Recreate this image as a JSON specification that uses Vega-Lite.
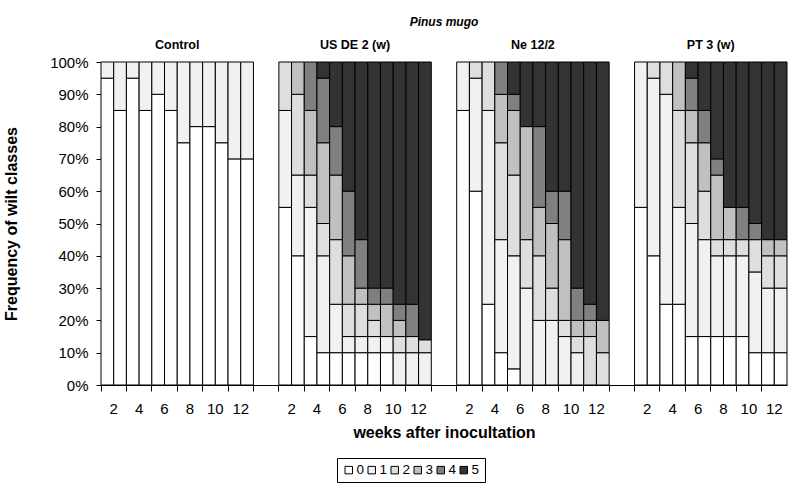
{
  "$schema": "https://vega.github.io/schema/vega-lite/v6.json",
  "width": 686,
  "height": 323,
  "autosize": "none",
  "padding": {"left": 101, "top": 62, "right": 9, "bottom": 101},
  "config": {"font": "Liberation Sans", "view": {"stroke": null}},
  "title": {"text": "Pinus mugo", "font": "Liberation Sans", "fontStyle": "italic", "fontWeight": "bold", "fontSize": 12, "offset": 10, "color": "black"},
  "datasets": {
    "wilt": [
      {"panel": "Control", "week": 2, "cls": "0", "pct": 95}, {"panel": "Control", "week": 2, "cls": "1", "pct": 5},
      {"panel": "Control", "week": 3, "cls": "0", "pct": 85}, {"panel": "Control", "week": 3, "cls": "1", "pct": 15},
      {"panel": "Control", "week": 4, "cls": "0", "pct": 95}, {"panel": "Control", "week": 4, "cls": "1", "pct": 5},
      {"panel": "Control", "week": 5, "cls": "0", "pct": 85}, {"panel": "Control", "week": 5, "cls": "1", "pct": 15},
      {"panel": "Control", "week": 6, "cls": "0", "pct": 90}, {"panel": "Control", "week": 6, "cls": "1", "pct": 10},
      {"panel": "Control", "week": 7, "cls": "0", "pct": 85}, {"panel": "Control", "week": 7, "cls": "1", "pct": 15},
      {"panel": "Control", "week": 8, "cls": "0", "pct": 75}, {"panel": "Control", "week": 8, "cls": "1", "pct": 25},
      {"panel": "Control", "week": 9, "cls": "0", "pct": 80}, {"panel": "Control", "week": 9, "cls": "1", "pct": 20},
      {"panel": "Control", "week": 10, "cls": "0", "pct": 80}, {"panel": "Control", "week": 10, "cls": "1", "pct": 20},
      {"panel": "Control", "week": 11, "cls": "0", "pct": 75}, {"panel": "Control", "week": 11, "cls": "1", "pct": 25},
      {"panel": "Control", "week": 12, "cls": "0", "pct": 70}, {"panel": "Control", "week": 12, "cls": "1", "pct": 30},
      {"panel": "Control", "week": 13, "cls": "0", "pct": 70}, {"panel": "Control", "week": 13, "cls": "1", "pct": 30},

      {"panel": "US DE 2 (w)", "week": 2, "cls": "0", "pct": 55}, {"panel": "US DE 2 (w)", "week": 2, "cls": "1", "pct": 30}, {"panel": "US DE 2 (w)", "week": 2, "cls": "2", "pct": 15},
      {"panel": "US DE 2 (w)", "week": 3, "cls": "0", "pct": 40}, {"panel": "US DE 2 (w)", "week": 3, "cls": "1", "pct": 25}, {"panel": "US DE 2 (w)", "week": 3, "cls": "2", "pct": 25}, {"panel": "US DE 2 (w)", "week": 3, "cls": "3", "pct": 10},
      {"panel": "US DE 2 (w)", "week": 4, "cls": "0", "pct": 15}, {"panel": "US DE 2 (w)", "week": 4, "cls": "1", "pct": 40}, {"panel": "US DE 2 (w)", "week": 4, "cls": "2", "pct": 10}, {"panel": "US DE 2 (w)", "week": 4, "cls": "3", "pct": 20}, {"panel": "US DE 2 (w)", "week": 4, "cls": "4", "pct": 15},
      {"panel": "US DE 2 (w)", "week": 5, "cls": "0", "pct": 10}, {"panel": "US DE 2 (w)", "week": 5, "cls": "1", "pct": 30}, {"panel": "US DE 2 (w)", "week": 5, "cls": "2", "pct": 10}, {"panel": "US DE 2 (w)", "week": 5, "cls": "3", "pct": 25}, {"panel": "US DE 2 (w)", "week": 5, "cls": "4", "pct": 20}, {"panel": "US DE 2 (w)", "week": 5, "cls": "5", "pct": 5},
      {"panel": "US DE 2 (w)", "week": 6, "cls": "0", "pct": 10}, {"panel": "US DE 2 (w)", "week": 6, "cls": "1", "pct": 15}, {"panel": "US DE 2 (w)", "week": 6, "cls": "2", "pct": 20}, {"panel": "US DE 2 (w)", "week": 6, "cls": "3", "pct": 20}, {"panel": "US DE 2 (w)", "week": 6, "cls": "4", "pct": 15}, {"panel": "US DE 2 (w)", "week": 6, "cls": "5", "pct": 20},
      {"panel": "US DE 2 (w)", "week": 7, "cls": "0", "pct": 10}, {"panel": "US DE 2 (w)", "week": 7, "cls": "1", "pct": 5}, {"panel": "US DE 2 (w)", "week": 7, "cls": "2", "pct": 10}, {"panel": "US DE 2 (w)", "week": 7, "cls": "3", "pct": 15}, {"panel": "US DE 2 (w)", "week": 7, "cls": "4", "pct": 20}, {"panel": "US DE 2 (w)", "week": 7, "cls": "5", "pct": 40},
      {"panel": "US DE 2 (w)", "week": 8, "cls": "0", "pct": 10}, {"panel": "US DE 2 (w)", "week": 8, "cls": "1", "pct": 5}, {"panel": "US DE 2 (w)", "week": 8, "cls": "2", "pct": 10}, {"panel": "US DE 2 (w)", "week": 8, "cls": "3", "pct": 5}, {"panel": "US DE 2 (w)", "week": 8, "cls": "4", "pct": 15}, {"panel": "US DE 2 (w)", "week": 8, "cls": "5", "pct": 55},
      {"panel": "US DE 2 (w)", "week": 9, "cls": "0", "pct": 10}, {"panel": "US DE 2 (w)", "week": 9, "cls": "1", "pct": 5}, {"panel": "US DE 2 (w)", "week": 9, "cls": "2", "pct": 5}, {"panel": "US DE 2 (w)", "week": 9, "cls": "3", "pct": 5}, {"panel": "US DE 2 (w)", "week": 9, "cls": "4", "pct": 5}, {"panel": "US DE 2 (w)", "week": 9, "cls": "5", "pct": 70},
      {"panel": "US DE 2 (w)", "week": 10, "cls": "0", "pct": 10}, {"panel": "US DE 2 (w)", "week": 10, "cls": "1", "pct": 5}, {"panel": "US DE 2 (w)", "week": 10, "cls": "3", "pct": 10}, {"panel": "US DE 2 (w)", "week": 10, "cls": "4", "pct": 5}, {"panel": "US DE 2 (w)", "week": 10, "cls": "5", "pct": 70},
      {"panel": "US DE 2 (w)", "week": 11, "cls": "1", "pct": 10}, {"panel": "US DE 2 (w)", "week": 11, "cls": "2", "pct": 5}, {"panel": "US DE 2 (w)", "week": 11, "cls": "3", "pct": 5}, {"panel": "US DE 2 (w)", "week": 11, "cls": "4", "pct": 5}, {"panel": "US DE 2 (w)", "week": 11, "cls": "5", "pct": 75},
      {"panel": "US DE 2 (w)", "week": 12, "cls": "1", "pct": 10}, {"panel": "US DE 2 (w)", "week": 12, "cls": "2", "pct": 5}, {"panel": "US DE 2 (w)", "week": 12, "cls": "4", "pct": 10}, {"panel": "US DE 2 (w)", "week": 12, "cls": "5", "pct": 75},
      {"panel": "US DE 2 (w)", "week": 13, "cls": "1", "pct": 10}, {"panel": "US DE 2 (w)", "week": 13, "cls": "2", "pct": 4}, {"panel": "US DE 2 (w)", "week": 13, "cls": "5", "pct": 86},

      {"panel": "Ne 12/2", "week": 2, "cls": "0", "pct": 85}, {"panel": "Ne 12/2", "week": 2, "cls": "1", "pct": 15},
      {"panel": "Ne 12/2", "week": 3, "cls": "0", "pct": 60}, {"panel": "Ne 12/2", "week": 3, "cls": "1", "pct": 35}, {"panel": "Ne 12/2", "week": 3, "cls": "2", "pct": 5},
      {"panel": "Ne 12/2", "week": 4, "cls": "0", "pct": 25}, {"panel": "Ne 12/2", "week": 4, "cls": "1", "pct": 60}, {"panel": "Ne 12/2", "week": 4, "cls": "2", "pct": 15},
      {"panel": "Ne 12/2", "week": 5, "cls": "0", "pct": 10}, {"panel": "Ne 12/2", "week": 5, "cls": "1", "pct": 35}, {"panel": "Ne 12/2", "week": 5, "cls": "2", "pct": 30}, {"panel": "Ne 12/2", "week": 5, "cls": "3", "pct": 15}, {"panel": "Ne 12/2", "week": 5, "cls": "4", "pct": 10},
      {"panel": "Ne 12/2", "week": 6, "cls": "0", "pct": 5}, {"panel": "Ne 12/2", "week": 6, "cls": "1", "pct": 35}, {"panel": "Ne 12/2", "week": 6, "cls": "2", "pct": 25}, {"panel": "Ne 12/2", "week": 6, "cls": "3", "pct": 20}, {"panel": "Ne 12/2", "week": 6, "cls": "4", "pct": 5}, {"panel": "Ne 12/2", "week": 6, "cls": "5", "pct": 10},
      {"panel": "Ne 12/2", "week": 7, "cls": "1", "pct": 30}, {"panel": "Ne 12/2", "week": 7, "cls": "2", "pct": 15}, {"panel": "Ne 12/2", "week": 7, "cls": "3", "pct": 35}, {"panel": "Ne 12/2", "week": 7, "cls": "5", "pct": 20},
      {"panel": "Ne 12/2", "week": 8, "cls": "1", "pct": 20}, {"panel": "Ne 12/2", "week": 8, "cls": "2", "pct": 20}, {"panel": "Ne 12/2", "week": 8, "cls": "3", "pct": 15}, {"panel": "Ne 12/2", "week": 8, "cls": "4", "pct": 25}, {"panel": "Ne 12/2", "week": 8, "cls": "5", "pct": 20},
      {"panel": "Ne 12/2", "week": 9, "cls": "1", "pct": 20}, {"panel": "Ne 12/2", "week": 9, "cls": "2", "pct": 10}, {"panel": "Ne 12/2", "week": 9, "cls": "3", "pct": 20}, {"panel": "Ne 12/2", "week": 9, "cls": "4", "pct": 10}, {"panel": "Ne 12/2", "week": 9, "cls": "5", "pct": 40},
      {"panel": "Ne 12/2", "week": 10, "cls": "1", "pct": 15}, {"panel": "Ne 12/2", "week": 10, "cls": "2", "pct": 5}, {"panel": "Ne 12/2", "week": 10, "cls": "3", "pct": 25}, {"panel": "Ne 12/2", "week": 10, "cls": "4", "pct": 15}, {"panel": "Ne 12/2", "week": 10, "cls": "5", "pct": 40},
      {"panel": "Ne 12/2", "week": 11, "cls": "1", "pct": 10}, {"panel": "Ne 12/2", "week": 11, "cls": "2", "pct": 5}, {"panel": "Ne 12/2", "week": 11, "cls": "3", "pct": 5}, {"panel": "Ne 12/2", "week": 11, "cls": "4", "pct": 10}, {"panel": "Ne 12/2", "week": 11, "cls": "5", "pct": 70},
      {"panel": "Ne 12/2", "week": 12, "cls": "2", "pct": 15}, {"panel": "Ne 12/2", "week": 12, "cls": "3", "pct": 5}, {"panel": "Ne 12/2", "week": 12, "cls": "4", "pct": 5}, {"panel": "Ne 12/2", "week": 12, "cls": "5", "pct": 75},
      {"panel": "Ne 12/2", "week": 13, "cls": "2", "pct": 10}, {"panel": "Ne 12/2", "week": 13, "cls": "3", "pct": 10}, {"panel": "Ne 12/2", "week": 13, "cls": "5", "pct": 80},

      {"panel": "PT 3 (w)", "week": 2, "cls": "0", "pct": 55}, {"panel": "PT 3 (w)", "week": 2, "cls": "1", "pct": 45},
      {"panel": "PT 3 (w)", "week": 3, "cls": "0", "pct": 40}, {"panel": "PT 3 (w)", "week": 3, "cls": "1", "pct": 55}, {"panel": "PT 3 (w)", "week": 3, "cls": "2", "pct": 5},
      {"panel": "PT 3 (w)", "week": 4, "cls": "0", "pct": 25}, {"panel": "PT 3 (w)", "week": 4, "cls": "1", "pct": 65}, {"panel": "PT 3 (w)", "week": 4, "cls": "2", "pct": 10},
      {"panel": "PT 3 (w)", "week": 5, "cls": "0", "pct": 25}, {"panel": "PT 3 (w)", "week": 5, "cls": "1", "pct": 30}, {"panel": "PT 3 (w)", "week": 5, "cls": "2", "pct": 30}, {"panel": "PT 3 (w)", "week": 5, "cls": "3", "pct": 15},
      {"panel": "PT 3 (w)", "week": 6, "cls": "0", "pct": 15}, {"panel": "PT 3 (w)", "week": 6, "cls": "1", "pct": 35}, {"panel": "PT 3 (w)", "week": 6, "cls": "2", "pct": 25}, {"panel": "PT 3 (w)", "week": 6, "cls": "3", "pct": 10}, {"panel": "PT 3 (w)", "week": 6, "cls": "4", "pct": 10}, {"panel": "PT 3 (w)", "week": 6, "cls": "5", "pct": 5},
      {"panel": "PT 3 (w)", "week": 7, "cls": "0", "pct": 15}, {"panel": "PT 3 (w)", "week": 7, "cls": "1", "pct": 30}, {"panel": "PT 3 (w)", "week": 7, "cls": "2", "pct": 15}, {"panel": "PT 3 (w)", "week": 7, "cls": "3", "pct": 15}, {"panel": "PT 3 (w)", "week": 7, "cls": "4", "pct": 10}, {"panel": "PT 3 (w)", "week": 7, "cls": "5", "pct": 15},
      {"panel": "PT 3 (w)", "week": 8, "cls": "0", "pct": 15}, {"panel": "PT 3 (w)", "week": 8, "cls": "1", "pct": 25}, {"panel": "PT 3 (w)", "week": 8, "cls": "2", "pct": 5}, {"panel": "PT 3 (w)", "week": 8, "cls": "3", "pct": 20}, {"panel": "PT 3 (w)", "week": 8, "cls": "4", "pct": 5}, {"panel": "PT 3 (w)", "week": 8, "cls": "5", "pct": 30},
      {"panel": "PT 3 (w)", "week": 9, "cls": "0", "pct": 15}, {"panel": "PT 3 (w)", "week": 9, "cls": "1", "pct": 25}, {"panel": "PT 3 (w)", "week": 9, "cls": "2", "pct": 5}, {"panel": "PT 3 (w)", "week": 9, "cls": "3", "pct": 10}, {"panel": "PT 3 (w)", "week": 9, "cls": "5", "pct": 45},
      {"panel": "PT 3 (w)", "week": 10, "cls": "0", "pct": 15}, {"panel": "PT 3 (w)", "week": 10, "cls": "1", "pct": 25}, {"panel": "PT 3 (w)", "week": 10, "cls": "2", "pct": 5}, {"panel": "PT 3 (w)", "week": 10, "cls": "4", "pct": 10}, {"panel": "PT 3 (w)", "week": 10, "cls": "5", "pct": 45},
      {"panel": "PT 3 (w)", "week": 11, "cls": "0", "pct": 10}, {"panel": "PT 3 (w)", "week": 11, "cls": "1", "pct": 25}, {"panel": "PT 3 (w)", "week": 11, "cls": "2", "pct": 10}, {"panel": "PT 3 (w)", "week": 11, "cls": "4", "pct": 5}, {"panel": "PT 3 (w)", "week": 11, "cls": "5", "pct": 50},
      {"panel": "PT 3 (w)", "week": 12, "cls": "0", "pct": 10}, {"panel": "PT 3 (w)", "week": 12, "cls": "1", "pct": 20}, {"panel": "PT 3 (w)", "week": 12, "cls": "2", "pct": 10}, {"panel": "PT 3 (w)", "week": 12, "cls": "3", "pct": 5}, {"panel": "PT 3 (w)", "week": 12, "cls": "5", "pct": 55},
      {"panel": "PT 3 (w)", "week": 13, "cls": "0", "pct": 10}, {"panel": "PT 3 (w)", "week": 13, "cls": "1", "pct": 20}, {"panel": "PT 3 (w)", "week": 13, "cls": "2", "pct": 10}, {"panel": "PT 3 (w)", "week": 13, "cls": "3", "pct": 5}, {"panel": "PT 3 (w)", "week": 13, "cls": "5", "pct": 55}
    ],
    "panels": [
      {"panel": "Control"}, {"panel": "US DE 2 (w)"}, {"panel": "Ne 12/2"}, {"panel": "PT 3 (w)"}
    ]
  },
  "layer": [
    {
      "data": {"name": "wilt"},
      "transform": [{"calculate": "datum.panel + '|' + datum.week", "as": "key"}],
      "mark": {"type": "bar", "stroke": "black", "strokeWidth": 1},
      "encoding": {
        "x": {
          "field": "key", "type": "nominal",
          "scale": {
            "domain": [
              "Control|2", "Control|3", "Control|4", "Control|5", "Control|6", "Control|7", "Control|8", "Control|9", "Control|10", "Control|11", "Control|12", "Control|13",
              "gap1a|", "gap1b|",
              "US DE 2 (w)|2", "US DE 2 (w)|3", "US DE 2 (w)|4", "US DE 2 (w)|5", "US DE 2 (w)|6", "US DE 2 (w)|7", "US DE 2 (w)|8", "US DE 2 (w)|9", "US DE 2 (w)|10", "US DE 2 (w)|11", "US DE 2 (w)|12", "US DE 2 (w)|13",
              "gap2a|", "gap2b|",
              "Ne 12/2|2", "Ne 12/2|3", "Ne 12/2|4", "Ne 12/2|5", "Ne 12/2|6", "Ne 12/2|7", "Ne 12/2|8", "Ne 12/2|9", "Ne 12/2|10", "Ne 12/2|11", "Ne 12/2|12", "Ne 12/2|13",
              "gap3a|", "gap3b|",
              "PT 3 (w)|2", "PT 3 (w)|3", "PT 3 (w)|4", "PT 3 (w)|5", "PT 3 (w)|6", "PT 3 (w)|7", "PT 3 (w)|8", "PT 3 (w)|9", "PT 3 (w)|10", "PT 3 (w)|11", "PT 3 (w)|12", "PT 3 (w)|13"
            ],
            "paddingInner": 0, "paddingOuter": 0
          },
          "axis": {
            "title": "weeks after inocultation",
            "titleFont": "Liberation Sans", "titleFontSize": 16, "titleFontWeight": "bold", "titleColor": "black", "titlePadding": 8,
            "values": [
              "Control|2", "Control|4", "Control|6", "Control|8", "Control|10", "Control|12", "gap1a|",
              "US DE 2 (w)|2", "US DE 2 (w)|4", "US DE 2 (w)|6", "US DE 2 (w)|8", "US DE 2 (w)|10", "US DE 2 (w)|12", "gap2a|",
              "Ne 12/2|2", "Ne 12/2|4", "Ne 12/2|6", "Ne 12/2|8", "Ne 12/2|10", "Ne 12/2|12", "gap3a|",
              "PT 3 (w)|2", "PT 3 (w)|4", "PT 3 (w)|6", "PT 3 (w)|8", "PT 3 (w)|10", "PT 3 (w)|12"
            ],
            "bandPosition": 0,
            "labelOffset": 6.35,
            "labelExpr": "slice(datum.value, indexof(datum.value, '|') + 1)",
            "labelAngle": 0, "labelFontSize": 15, "labelColor": "black", "labelPadding": 10,
            "tickSize": 6, "tickColor": "black", "domainColor": "black", "labelOverlap": false
          }
        },
        "y": {
          "field": "pct", "type": "quantitative", "stack": "zero",
          "scale": {"domain": [0, 100], "nice": false},
          "axis": {
            "title": "Frequency of wilt classes",
            "titleFont": "Liberation Sans", "titleFontSize": 16, "titleFontWeight": "bold", "titleColor": "black", "titlePadding": 30,
            "values": [0, 10, 20, 30, 40, 50, 60, 70, 80, 90, 100],
            "tickCount": 20,
            "labelExpr": "datum.value + '%'",
            "labelFontSize": 15, "labelColor": "black", "labelPadding": 8, "labelOverlap": false, "labelBound": false,
            "tickSize": 5, "tickColor": "black", "domainColor": "black", "grid": false
          }
        },
        "color": {
          "field": "cls", "type": "nominal",
          "scale": {"domain": ["0", "1", "2", "3", "4", "5"], "range": ["#ffffff", "#f1f1f1", "#dedede", "#c0c0c0", "#808080", "#333333"]},
          "legend": {
            "title": null, "orient": "none", "legendX": 236, "legendY": 396, "direction": "horizontal",
            "symbolType": "square", "symbolSize": 56, "symbolStrokeColor": "black", "symbolStrokeWidth": 1, "symbolOpacity": 1,
            "labelFontSize": 13.5, "labelColor": "black", "labelOffset": 1, "columnPadding": 0,
            "strokeColor": "black", "padding": 5
          }
        },
        "order": {"field": "cls", "type": "ordinal", "sort": "ascending"}
      }
    },
    {
      "data": {"name": "panels"},
      "transform": [{"calculate": "datum.panel + '|8'", "as": "key"}],
      "mark": {"type": "text", "fontWeight": "bold", "fontSize": 12.5, "baseline": "middle", "dy": -17, "color": "black"},
      "encoding": {
        "x": {"field": "key", "type": "nominal", "bandPosition": 0},
        "y": {
          "datum": 100, "type": "quantitative",
          "axis": {
            "title": "Frequency of wilt classes",
            "titleFont": "Liberation Sans", "titleFontSize": 16, "titleFontWeight": "bold", "titleColor": "black", "titlePadding": 30,
            "values": [0, 10, 20, 30, 40, 50, 60, 70, 80, 90, 100],
            "tickCount": 20,
            "labelExpr": "datum.value + '%'",
            "labelFontSize": 15, "labelColor": "black", "labelPadding": 8, "labelOverlap": false, "labelBound": false,
            "tickSize": 5, "tickColor": "black", "domainColor": "black", "grid": false
          }
        },
        "text": {"field": "panel"}
      }
    }
  ]
}
